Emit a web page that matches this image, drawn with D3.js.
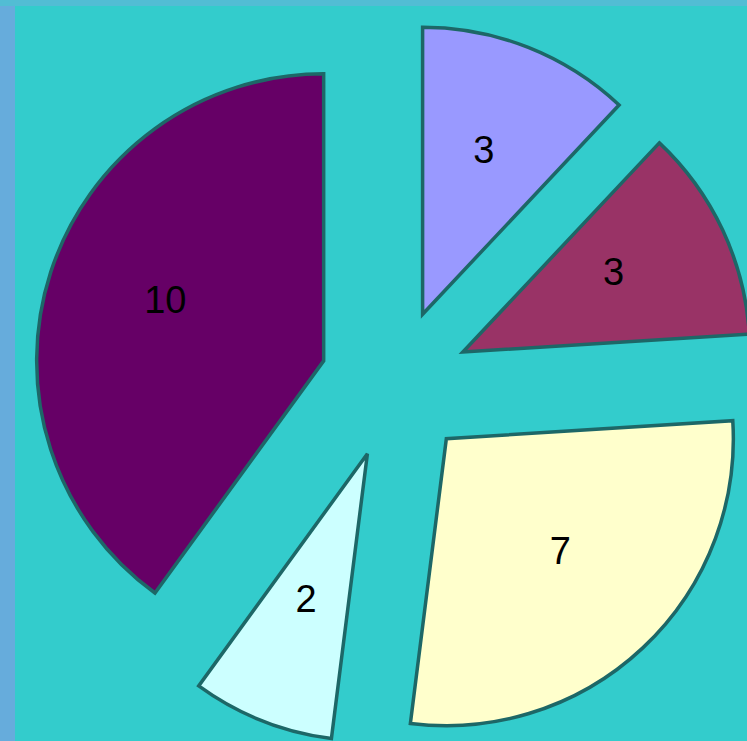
<!DOCTYPE html>
<html>
<head>
<meta charset="utf-8">
<script src="https://cdnjs.cloudflare.com/ajax/libs/d3/7.8.5/d3.min.js"></script>
<style>
	body { margin: 0; padding: 0; overflow: hidden; background: #33cccc; }
	#chart svg { display: block; }
</style>
</head>
<body>
<div id="chart"></div>
<script>
// Variables
var width = 747,
	height = 741;

// data, clockwise from 12 o'clock
var labels = ["3", "3", "7", "2", "10"];
var values = [3, 3, 7, 2, 10];
var sliceColors = ["#9999ff", "#993366", "#ffffcc", "#ccffff", "#660066"];

var cx = 395,
	cy = 384,
	radius = 287,
	explode = 75, // every slice pulled out from the centre
	labelRadius = radius * 0.58;

var svg = d3.select("#chart").append("svg")
	.attr("width", width)
	.attr("height", height);

// background + the two thin frame strips
svg.append("rect")
	.attr("width", width)
	.attr("height", height)
	.attr("fill", "#33cccc");
svg.append("rect")
	.attr("width", width)
	.attr("height", 6)
	.attr("fill", "#52bdd4");
svg.append("rect")
	.attr("y", 6)
	.attr("width", 15)
	.attr("height", height - 6)
	.attr("fill", "#66acdc");

var color = d3.scaleOrdinal()
	.domain(d3.range(values.length))
	.range(sliceColors);

var pie = d3.pie()
	.sort(null)
	.value(function(d) { return d; });

var arc = d3.arc()
	.innerRadius(0)
	.outerRadius(radius);

var arcs = pie(values);

function offset(d, r) {
	var a = (d.startAngle + d.endAngle) / 2;
	return [Math.sin(a) * r, -Math.cos(a) * r];
}

var slice = svg.append("g")
	.attr("transform", "translate(" + cx + "," + cy + ")")
  .selectAll("g")
	.data(arcs)
  .enter().append("g")
	.attr("transform", function(d) { return "translate(" + offset(d, explode) + ")"; });

slice.append("path")
	.attr("d", arc)
	.attr("fill", function(d, i) { return color(i); })
	.attr("stroke", "#1d6767")
	.attr("stroke-width", 3.5)
	.attr("stroke-linejoin", "miter");

// labels sit a little above the slice middle, like the original
slice.append("text")
	.attr("transform", function(d) { return "translate(" + offset(d, labelRadius) + ")"; })
	.attr("text-anchor", "middle")
	.attr("y", -10)
	.attr("dy", "0.36em")
	.style("font-family", "Arial, 'Liberation Sans', sans-serif")
	.style("font-size", "38px")
	.attr("fill", "#000")
	.text(function(d, i) { return labels[i]; });
</script>
</body>
</html>
